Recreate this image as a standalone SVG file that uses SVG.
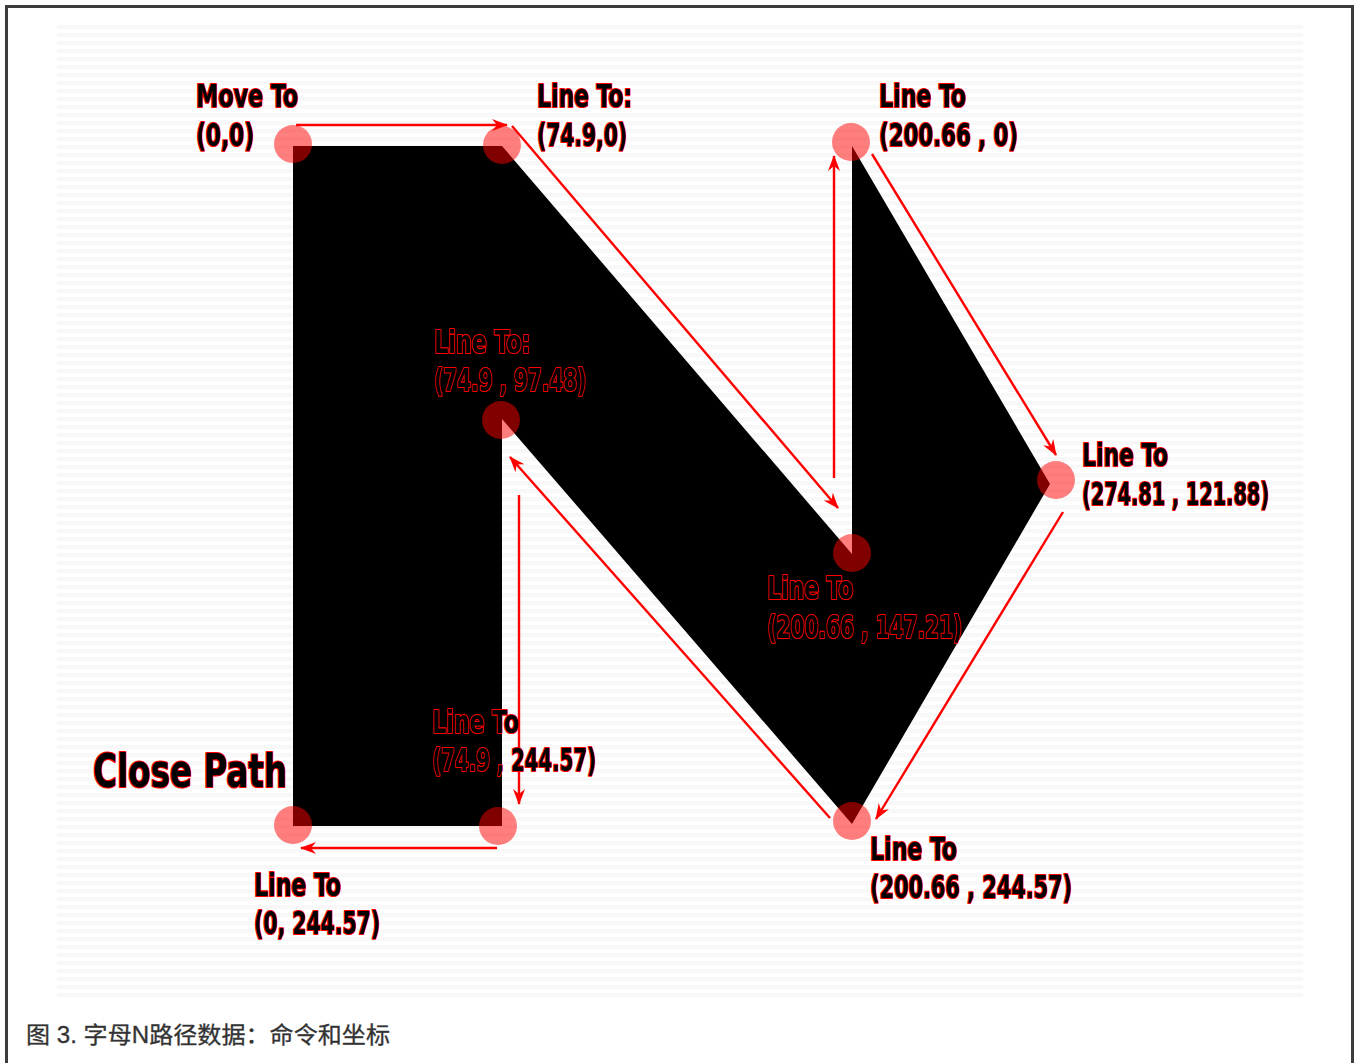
<svg xmlns="http://www.w3.org/2000/svg" width="1356" height="1063" viewBox="0 0 1356 1063">
<style>
.lbl{font-family:"Liberation Sans Narrow","DejaVu Sans Condensed","Liberation Sans",sans-serif;font-weight:bold;font-size:32px;fill:#000;stroke:#ff0000;stroke-width:2.2;paint-order:stroke;stroke-linejoin:round}
.big{font-size:46px}
.vtx{fill:#ff0000;fill-opacity:0.5}
.arr{stroke:#ff0000;stroke-width:2.4;fill:none;marker-end:url(#ah)}
.cap{font-family:"Liberation Sans","Noto Sans CJK SC",sans-serif;font-size:23px;fill:#333;stroke:#333;stroke-width:0.3}
</style>
<defs>
<pattern id="stripes" x="0" y="25" width="8" height="8" patternUnits="userSpaceOnUse">
<rect width="8" height="8" fill="#ffffff"/>
<rect width="8" height="4" fill="#f8f8f8"/>
</pattern>
<marker id="ah" viewBox="0 0 16 12" refX="15" refY="6" markerWidth="16" markerHeight="12" markerUnits="userSpaceOnUse" orient="auto">
<path d="M0,0 L16,6 L0,12 L5,6 z" fill="#ff0000"/>
</marker>
</defs>
<rect width="1356" height="1063" fill="#ffffff"/>
<rect x="6.5" y="6.5" width="1346" height="1080" fill="none" stroke="#3c3c3c" stroke-width="3"/>
<rect x="57" y="25" width="1246" height="972" fill="url(#stripes)"/>

<g id="shape-N">
<path d="M293,146 L502,146 L852,554 L852,146 L1050,484 L852,824 L502,419 L502,826 L293,826 Z" fill="#000"/>
</g>

<g id="connectors">
<line class="arr" x1="296" y1="125" x2="507" y2="125"/>
<line class="arr" x1="512" y1="126" x2="838" y2="508"/>
<line class="arr" x1="834" y1="478" x2="834" y2="156"/>
<line class="arr" x1="872" y1="154" x2="1056" y2="455"/>
<line class="arr" x1="1063" y1="512" x2="876" y2="819"/>
<line class="arr" x1="830" y1="818" x2="510" y2="457"/>
<line class="arr" x1="519" y1="495" x2="519" y2="804"/>
<line class="arr" x1="497" y1="848" x2="301" y2="848"/>
</g>

<g id="v0"><circle class="vtx" cx="293" cy="144" r="19"/>
<text class="lbl" x="196" y="107" textLength="102" lengthAdjust="spacingAndGlyphs">Move To</text>
<text class="lbl" x="196" y="146" textLength="58" lengthAdjust="spacingAndGlyphs">(0,0)</text></g>

<g id="v1"><circle class="vtx" cx="502" cy="145" r="19"/>
<text class="lbl" x="537" y="107" textLength="95" lengthAdjust="spacingAndGlyphs">Line To:</text>
<text class="lbl" x="537" y="146" textLength="90" lengthAdjust="spacingAndGlyphs">(74.9,0)</text></g>

<g id="v2"><circle class="vtx" cx="852" cy="553" r="19"/>
<text class="lbl" x="767" y="599" textLength="86" lengthAdjust="spacingAndGlyphs">Line To</text>
<text class="lbl" x="767" y="638" textLength="195" lengthAdjust="spacingAndGlyphs">(200.66 , 147.21)</text></g>

<g id="v3"><circle class="vtx" cx="851" cy="142" r="19"/>
<text class="lbl" x="879" y="107" textLength="87" lengthAdjust="spacingAndGlyphs">Line To</text>
<text class="lbl" x="879" y="146" textLength="139" lengthAdjust="spacingAndGlyphs">(200.66 , 0)</text></g>

<g id="v4"><circle class="vtx" cx="1056" cy="480" r="19"/>
<text class="lbl" x="1082" y="466" textLength="86" lengthAdjust="spacingAndGlyphs">Line To</text>
<text class="lbl" x="1082" y="505" textLength="187" lengthAdjust="spacingAndGlyphs">(274.81 , 121.88)</text></g>

<g id="v5"><circle class="vtx" cx="852" cy="821" r="19"/>
<text class="lbl" x="870" y="860" textLength="87" lengthAdjust="spacingAndGlyphs">Line To</text>
<text class="lbl" x="870" y="898" textLength="202" lengthAdjust="spacingAndGlyphs">(200.66 , 244.57)</text></g>

<g id="v6"><circle class="vtx" cx="501" cy="420" r="19"/>
<text class="lbl" x="434" y="353" textLength="96" lengthAdjust="spacingAndGlyphs">Line To:</text>
<text class="lbl" x="434" y="391" textLength="152" lengthAdjust="spacingAndGlyphs">(74.9 , 97.48)</text></g>

<g id="v7"><circle class="vtx" cx="498" cy="826" r="19"/>
<text class="lbl" x="432" y="733" textLength="87" lengthAdjust="spacingAndGlyphs">Line To</text>
<text class="lbl" x="432" y="771" textLength="164" lengthAdjust="spacingAndGlyphs">(74.9 , 244.57)</text></g>

<g id="v8"><circle class="vtx" cx="293" cy="825" r="19"/>
<text class="lbl" x="254" y="896" textLength="87" lengthAdjust="spacingAndGlyphs">Line To</text>
<text class="lbl" x="254" y="934" textLength="126" lengthAdjust="spacingAndGlyphs">(0, 244.57)</text></g>

<g id="close-path">
<text class="lbl big" x="93" y="787" textLength="194" lengthAdjust="spacingAndGlyphs">Close Path</text>
</g>

<g id="caption">
<text class="cap" x="26" y="1043" textLength="364" lengthAdjust="spacingAndGlyphs">图 3. 字母N路径数据：命令和坐标</text>
</g>
</svg>
